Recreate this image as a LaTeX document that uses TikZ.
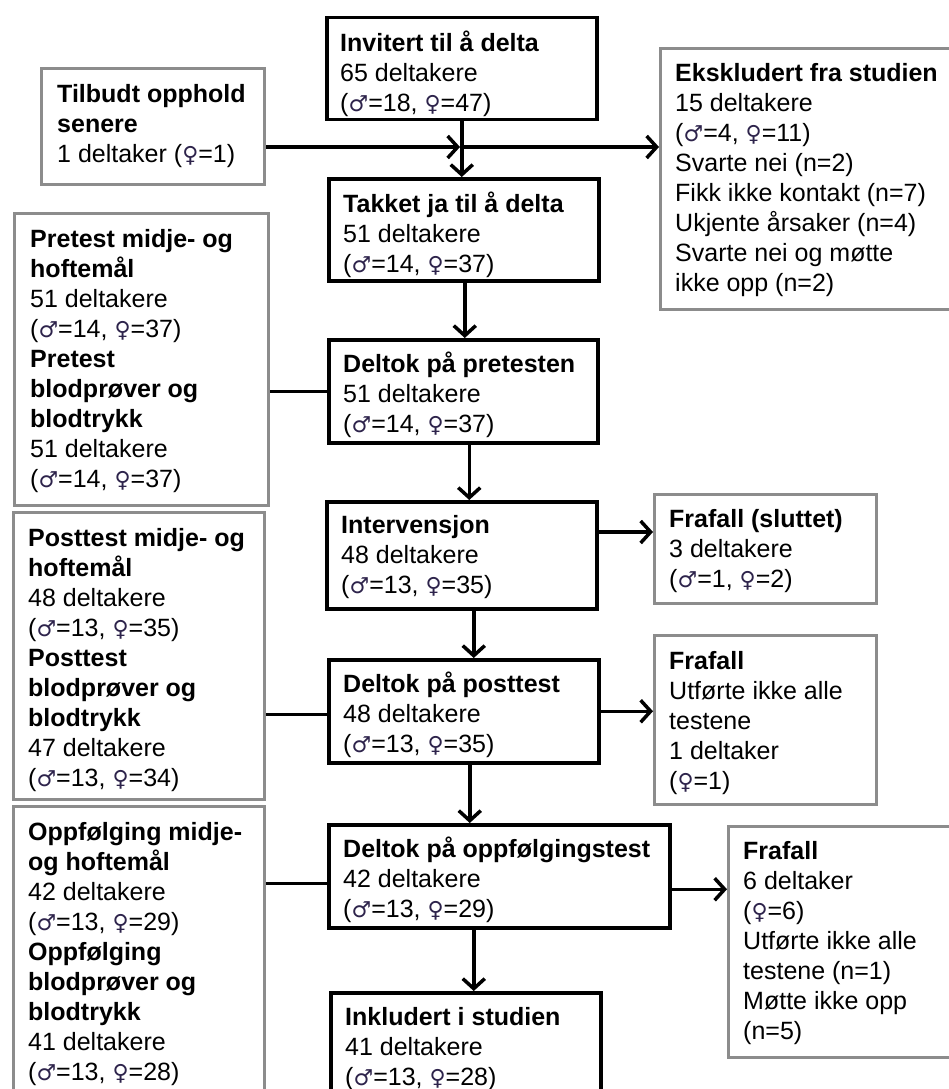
\documentclass[tikz,border=0pt]{standalone}
\usepackage{fontspec}
\setmainfont{Liberation Sans}
\newfontfamily\symf{DejaVu Sans}
\usetikzlibrary{arrows.meta,calc}
\definecolor{grayline}{RGB}{140,140,140}
\definecolor{symc}{RGB}{45,35,75}
\newcommand{\Ma}{{\symf\fontsize{22}{30}\selectfont\color{symc}♂}}
\newcommand{\Fe}{{\symf\fontsize{22}{30}\selectfont\color{symc}♀}}
\newcommand{\fst}{\rule{0pt}{22pt}}
\tikzset{
  mainbox/.style={draw=black, line width=3.5pt, inner sep=0pt, anchor=north west},
  graybox/.style={draw=grayline, line width=3pt, inner sep=0pt, anchor=north west},
  txt/.style={inner sep=0pt, anchor=north west, align=left, font=\fontsize{25}{30}\selectfont},
  arr/.style={line width=3.5pt, -{Straight Barb[length=10pt,width=22pt,line width=3.5pt]}},
  ln/.style={line width=3.5pt},
}
\begin{document}
\begin{tikzpicture}[x=1pt,y=-1pt]
\useasboundingbox (0,0) rectangle (949,1089);
\clip (0,0) rectangle (949,1089);
\fill[white] (0,0) rectangle (949,1089);

% main boxes
\node[mainbox, minimum width=270pt, minimum height=102pt] (inv) at (325,16) {};
\node[mainbox, minimum width=270pt, minimum height=102pt] (tak) at (327,177) {};
\node[mainbox, minimum width=269pt, minimum height=103pt] (pre) at (327,338) {};
\node[mainbox, minimum width=270pt, minimum height=107pt] (int) at (325,500) {};
\node[mainbox, minimum width=270pt, minimum height=103pt] (pos) at (327,658) {};
\node[mainbox, minimum width=341pt, minimum height=103pt] (opp) at (327,823) {};
\node[mainbox, minimum width=270pt, minimum height=150pt] (ink) at (329,991) {};

% gray boxes
\node[graybox, minimum width=223pt, minimum height=116pt] (A) at (40,67) {};
\node[graybox, minimum width=254pt, minimum height=292pt] (B) at (13,212) {};
\node[graybox, minimum width=251pt, minimum height=287pt] (C) at (12,511) {};
\node[graybox, minimum width=251pt, minimum height=320pt] (D) at (12,805) {};
\node[graybox, minimum width=320pt, minimum height=261pt] (E) at (659,47) {};
\node[graybox, minimum width=222pt, minimum height=109pt] (F) at (653,493) {};
\node[graybox, minimum width=222pt, minimum height=169pt] (G) at (653,634) {};
\node[graybox, minimum width=260pt, minimum height=231pt] (H) at (727,825) {};

% texts
\node[txt] (invt) at ([shift={(15,13)}]inv.north west) {\fst\textbf{Invitert til å delta}\\65 deltakere\\(\Ma=18, \Fe=47)};
\node[txt] (takt) at ([shift={(16,13)}]tak.north west) {\fst\textbf{Takket ja til å delta}\\51 deltakere\\(\Ma=14, \Fe=37)};
\node[txt] (pret) at ([shift={(16,12)}]pre.north west) {\fst\textbf{Deltok på pretesten}\\51 deltakere\\(\Ma=14, \Fe=37)};
\node[txt] (intt) at ([shift={(16,11)}]int.north west) {\fst\textbf{Intervensjon}\\48 deltakere\\(\Ma=13, \Fe=35)};
\node[txt] (post) at ([shift={(16,12)}]pos.north west) {\fst\textbf{Deltok på posttest}\\48 deltakere\\(\Ma=13, \Fe=35)};
\node[txt] (oppt) at ([shift={(16,12)}]opp.north west) {\fst\textbf{Deltok på oppfølgingstest}\\42 deltakere\\(\Ma=13, \Fe=29)};
\node[txt] (inkt) at ([shift={(16,12)}]ink.north west) {\fst\textbf{Inkludert i studien}\\41 deltakere\\(\Ma=13, \Fe=28)};

\node[txt] (At) at ([shift={(17,13)}]A.north west) {\fst\textbf{Tilbudt opphold}\\\textbf{senere}\\1 deltaker (\Fe=1)};
\node[txt] (Bt) at ([shift={(17,13)}]B.north west) {\fst\textbf{Pretest midje- og}\\\textbf{hoftemål}\\51 deltakere\\(\Ma=14, \Fe=37)\\\textbf{Pretest}\\\textbf{blodprøver og}\\\textbf{blodtrykk}\\51 deltakere\\(\Ma=14, \Fe=37)};
\node[txt] (Ct) at ([shift={(16,13)}]C.north west) {\fst\textbf{Posttest midje- og}\\\textbf{hoftemål}\\48 deltakere\\(\Ma=13, \Fe=35)\\\textbf{Posttest}\\\textbf{blodprøver og}\\\textbf{blodtrykk}\\47 deltakere\\(\Ma=13, \Fe=34)};
\node[txt] (Dt) at ([shift={(16,13)}]D.north west) {\fst\textbf{Oppfølging midje-}\\\textbf{og hoftemål}\\42 deltakere\\(\Ma=13, \Fe=29)\\\textbf{Oppfølging}\\\textbf{blodprøver og}\\\textbf{blodtrykk}\\41 deltakere\\(\Ma=13, \Fe=28)};
\node[txt] (Et) at ([shift={(16,12)}]E.north west) {\fst\textbf{Ekskludert fra studien}\\15 deltakere\\(\Ma=4, \Fe=11)\\Svarte nei (n=2)\\Fikk ikke kontakt (n=7)\\Ukjente årsaker (n=4)\\Svarte nei og møtte\\ikke opp (n=2)};
\node[txt] (Ft) at ([shift={(16,12)}]F.north west) {\fst\textbf{Frafall (sluttet)}\\3 deltakere\\(\Ma=1, \Fe=2)};
\node[txt] (Gt) at ([shift={(16,13)}]G.north west) {\fst\textbf{Frafall}\\Utførte ikke alle\\testene\\1 deltaker\\(\Fe=1)};
\node[txt] (Ht) at ([shift={(16,12)}]H.north west) {\fst\textbf{Frafall}\\6 deltaker\\(\Fe=6)\\Utførte ikke alle\\testene (n=1)\\Møtte ikke opp\\(n=5)};

% connectors
\coordinate (j1) at (460,147);
\draw[arr] (inv.south) -- (inv.south |- tak.north);
\draw[arr] (A.east |- j1) -- (j1);
\draw[arr] (j1) -- (j1 -| E.west);
\draw[arr] ([xshift=1pt]tak.south) -- ([xshift=1pt]tak.south |- pre.north);
\draw[ln] (B.east |- pre.west) -- (pre.west);
\draw[arr] ([xshift=6pt]pre.south) -- ([xshift=6pt]pre.south |- int.north);
\draw[arr] ([yshift=-32pt]int.north east) -- ([yshift=-32pt]int.north east -| F.west);
\draw[arr] ([xshift=12pt]int.south) -- ([xshift=12pt]int.south |- pos.north);
\draw[ln] ([yshift=-3pt]C.east |- pos.west) -- ([yshift=-3pt]pos.west);
\draw[arr] (pos.east) -- (pos.east -| G.west);
\draw[arr] ([xshift=6pt]pos.south) -- ([xshift=6pt]pos.south |- opp.north);
\draw[ln] ([yshift=-7pt]D.east |- opp.west) -- ([yshift=-7pt]opp.west);
\draw[arr] ([yshift=-13pt]opp.east) -- ([yshift=-13pt]opp.east -| H.west);
\draw[arr] ([xshift=8pt]ink.north |- opp.south) -- ([xshift=8pt]ink.north);
\end{tikzpicture}
\end{document}
